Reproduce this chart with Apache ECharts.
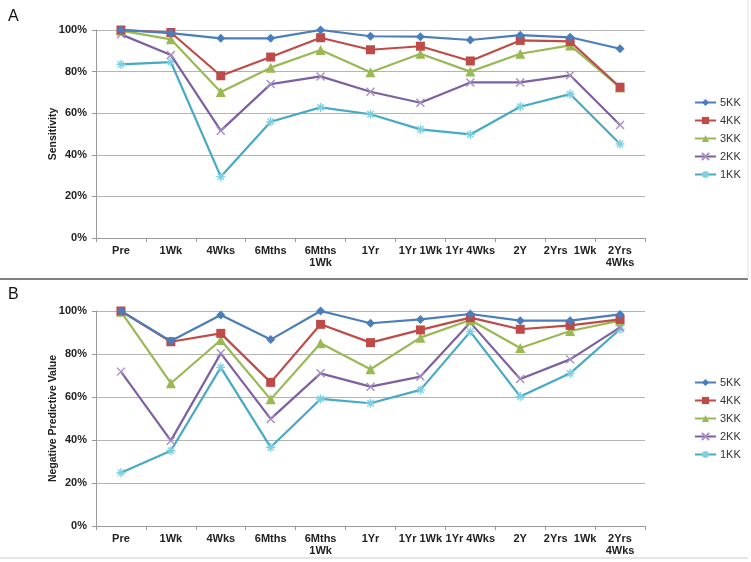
<!DOCTYPE html>
<html>
<head>
<meta charset="utf-8">
<script src="https://cdn.jsdelivr.net/npm/echarts@6/dist/echarts.min.js"></script>
<style>html,body{margin:0;padding:0;background:#fff}#c{width:751px;height:562px}</style>
</head>
<body>
<div id="c"></div>
<script>
const categories = ['Pre','1Wk','4Wks','6Mths','6Mths\n1Wk','1Yr','1Yr 1Wk','1Yr 4Wks','2Y','2Yrs  1Wk','2Yrs\n4Wks'];
const seriesNames = ['5KK','4KK','3KK','2KK','1KK'];
const yTicks = [0,20,40,60,80,100];

// Panel A: Sensitivity (%)
const sens5KK = [100, 98.5, 96, 96, 100, 97, 96.8, 95.2, 97.5, 96.5, 91];
const sens4KK = [100, 98.8, 78, 87, 96.3, 90.5, 92.2, 85.1, 95, 94.5, 72.5];
const sens3KK = [99.7, 95.5, 70.2, 81.9, 90.4, 79.7, 88.6, 80, 88.6, 92.6, 72.4];
const sens2KK = [97.9, 88, 51.6, 74, 77.7, 70.3, 65, 74.8, 74.8, 78.2, 54.3];
const sens1KK = [83.5, 84.6, 29.5, 55.9, 62.8, 59.5, 52.2, 49.8, 63.1, 69.2, 45.2];

// Panel B: Negative Predictive Value (%)
const npv5KK = [100, 86, 98.1, 86.7, 100, 94.3, 96.1, 98.6, 95.5, 95.5, 98.4];
const npv4KK = [100, 85.7, 89.6, 66.8, 93.8, 85.3, 91.2, 96.9, 91.5, 93.3, 96.1];
const npv3KK = [99.7, 66.4, 86.5, 58.9, 85, 72.9, 87.6, 95.8, 82.8, 90.7, 95.5];
const npv2KK = [71.8, 39.7, 80.3, 49.8, 71, 64.8, 69.5, 94.6, 68.4, 77.5, 92.4];
const npv1KK = [24.8, 35, 73.8, 36.6, 59.1, 57.1, 63.3, 90.4, 60.2, 71, 91.5];

const colors = ['#4A7EBB','#BE4B48','#98B954','#7D60A0','#46AAC5'];
const symbols = ['diamond','rect','triangle',
  'path://M0,0L10,10M10,0L0,10',
  'path://M5,0L5,10M0,5L10,5M1.5,1.5L8.5,8.5M8.5,1.5L1.5,8.5'];
const symSizes = [9, 9, 10, 8, 9];

const chart = echarts.init(document.getElementById('c'), null, {renderer:'canvas'});
const font = 'Liberation Sans, Arial, sans-serif';

function mkSeries(dataArr, gi){
  return dataArr.map((d,i)=>{
    const isStroke = i>=3;
    return {
      name: seriesNames[i], type:'line', xAxisIndex:gi, yAxisIndex:gi,
      data:d, symbol:symbols[i], symbolSize:symSizes[i],
      lineStyle:{color:colors[i], width:2.2},
      itemStyle: isStroke ? {color:'rgba(0,0,0,0)', borderColor: i===3?'#A48FC4':'#7FCFE2', borderWidth:1.4}
                          : {color:colors[i], borderColor:colors[i], borderWidth:0},
      emphasis:{disabled:true}, animation:false, z: 10-i
    };
  });
}

function xAx(gi){
  return {type:'category', gridIndex:gi, data:categories, boundaryGap:true,
    axisLine:{lineStyle:{color:'#9a9a9a', width:1}},
    axisTick:{show:true, length:4, alignWithLabel:false, lineStyle:{color:'#9a9a9a'}},
    axisLabel:{color:'#222', fontFamily:font, fontWeight:'bold', fontSize:11, margin:7, lineHeight:12, interval:0},
    splitLine:{show:false}};
}
function yAx(gi, name){
  return {type:'value', gridIndex:gi, min:0, max:100, interval:20,
    name:name, nameLocation:'middle', nameGap:37, nameRotate:90, nameMoveOverlap:false,
    nameTextStyle:{color:'#222', fontFamily:font, fontWeight:'bold', fontSize:10.5},
    axisLine:{show:true, lineStyle:{color:'#9a9a9a'}},
    axisTick:{show:true, length:4, lineStyle:{color:'#9a9a9a'}},
    axisLabel:{color:'#222', fontFamily:font, fontWeight:'bold', fontSize:11, margin:9, formatter:'{value}%'},
    splitLine:{show:true, lineStyle:{color:'#b4b4b4', width:1.2}}};
}
function legend(top){
  return {orient:'vertical', left:694, top:top, padding:0, itemWidth:21, itemHeight:9, itemGap:7,
    data:seriesNames, textStyle:{color:'#333', fontFamily:font, fontSize:11, padding:[0,0,0,-1]}, selectedMode:false};
}

chart.setOption({
  backgroundColor:'#fff',
  animation:false,
  grid:[
    {left:96, right:106, top:30, height:208},
    {left:96, right:106, top:311, height:215}
  ],
  xAxis:[xAx(0), xAx(1)],
  yAxis:[yAx(0,'Sensitivity'), yAx(1,'Negative Predictive Value')],
  legend:[legend(97), legend(377)],
  series:[...mkSeries([sens5KK,sens4KK,sens3KK,sens2KK,sens1KK],0),
          ...mkSeries([npv5KK,npv4KK,npv3KK,npv2KK,npv1KK],1)],
  graphic:[
    {type:'text', left:8, top:9, style:{text:'A', fontSize:16, fontFamily:font, fill:'#111'}},
    {type:'text', left:8, top:287, style:{text:'B', fontSize:16, fontFamily:font, fill:'#111'}},
    {type:'line', shape:{x1:0,y1:279,x2:748,y2:279}, style:{stroke:'#555', lineWidth:1.5}},
    {type:'line', shape:{x1:0,y1:558,x2:748,y2:558}, style:{stroke:'#ccc', lineWidth:1}},
    {type:'line', shape:{x1:748,y1:0,x2:748,y2:279}, style:{stroke:'#ddd', lineWidth:1}}
  ]
});
</script>
</body>
</html>
